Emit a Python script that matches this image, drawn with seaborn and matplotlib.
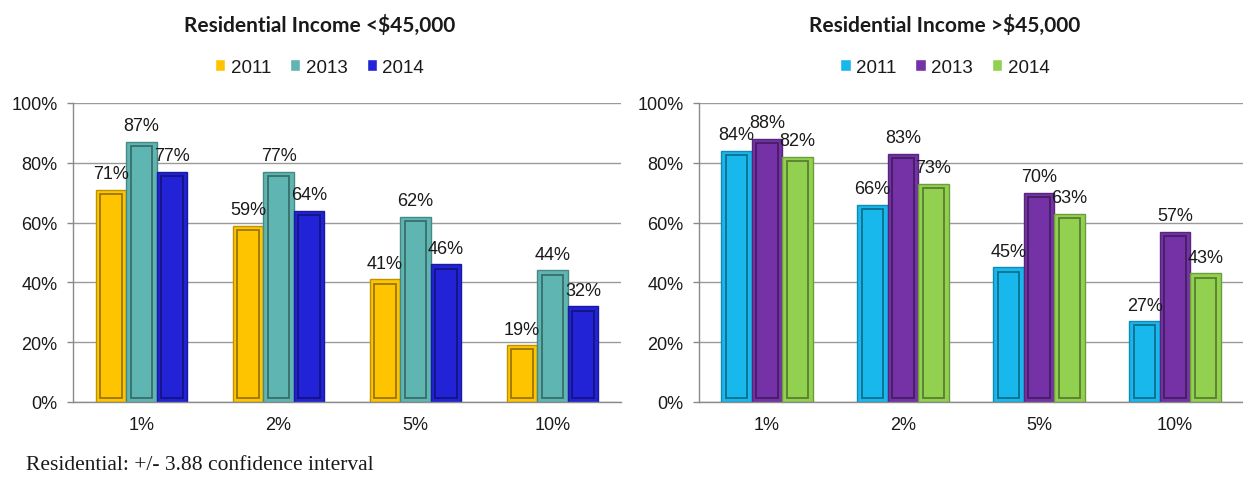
import matplotlib
matplotlib.use("Agg")
import matplotlib.pyplot as plt
import matplotlib.colors as mcolors
from matplotlib.patches import Rectangle
import seaborn as sns
import pandas as pd
import numpy as np

categories = ["1%", "2%", "5%", "10%"]
years = ["2011", "2013", "2014"]
low_2011 = [71, 59, 41, 19]
low_2013 = [87, 77, 62, 44]
low_2014 = [77, 64, 46, 32]
high_2011 = [84, 66, 45, 27]
high_2013 = [88, 83, 70, 57]
high_2014 = [82, 73, 63, 43]
title_low = "Residential Income <$45,000"
title_high = "Residential Income >$45,000"
yticks = [0, 20, 40, 60, 80, 100]
footnote = "Residential: +/- 3.88 confidence interval"

colors_low = ["#FFC400", "#5FB5B2", "#2222D6"]
colors_high = ["#18B8EC", "#7432A6", "#92D050"]

sns.set_theme(style="white")
plt.rcParams["font.family"] = ["Liberation Sans", "DejaVu Sans"]

def make_df(a, b, c):
    rows = []
    for y, vals in zip(years, [a, b, c]):
        for cat, v in zip(categories, vals):
            rows.append({"cat": cat, "year": y, "val": v})
    return pd.DataFrame(rows)

fig = plt.figure(figsize=(12.43, 4.81), dpi=100)
W, H = 1243, 481
ax1 = fig.add_axes([73 / W, 1 - 403 / H, 548 / W, 299 / H])
ax2 = fig.add_axes([699 / W, 1 - 403 / H, 544 / W, 299 / H])

def darker(c, f=0.6):
    r, g, b = mcolors.to_rgb(c)
    return (r * f, g * f, b * f)

def draw(ax, df, pal, title, cx):
    sns.barplot(data=df, x="cat", y="val", hue="year", palette=pal,
                order=categories, hue_order=years, width=0.67, ax=ax,
                saturation=1, legend=True)
    ax.set_ylim(0, 100)
    ax.set_xlim(-0.5, 3.5)
    ax.set_yticks(yticks)
    ax.set_yticklabels([f"{t}%" for t in yticks], fontsize=13, color="#1a1a1a")
    ax.set_xticks(range(len(categories)))
    ax.set_xticklabels(categories, fontsize=13, color="#1a1a1a")
    ax.set_xticks(np.arange(-0.5, 4.0, 1.0), minor=True)
    ax.tick_params(axis="x", which="major", length=0, pad=10)
    ax.tick_params(axis="x", which="minor", length=4, width=1, color="#8a8a8a", direction="out")
    ax.tick_params(axis="y", length=4, width=1, color="#8a8a8a", direction="out", pad=7, left=True)
    ax.set_xlabel("")
    ax.set_ylabel("")
    ax.grid(axis="y", color="#9a9a9a", linewidth=1)
    ax.set_axisbelow(True)
    for s in ["top", "right"]:
        ax.spines[s].set_visible(False)
    for s in ["left", "bottom"]:
        ax.spines[s].set_color("#8a8a8a")
        ax.spines[s].set_linewidth(1)
    for i, cont in enumerate(ax.containers):
        col = pal[i]
        for p in cont:
            p.set_edgecolor(darker(col, 0.75))
            p.set_linewidth(1.0)
            x, y0 = p.get_x(), p.get_y()
            w, h = p.get_width(), p.get_height()
            dx = w * 0.15
            dy = 1.4
            if h > 2 * dy:
                ax.add_patch(Rectangle((x + dx, y0 + dy), w - 2 * dx, h - 2 * dy,
                                       fill=False, edgecolor=darker(col, 0.6),
                                       linewidth=1.3, zorder=p.get_zorder() + 0.1))
        ax.bar_label(cont, labels=[f"{int(v)}%" for v in cont.datavalues],
                     padding=5.5, fontsize=13, color="#1a1a1a")
    leg = ax.legend(loc="center", bbox_to_anchor=(cx, 1.12), ncol=3, frameon=False,
                    fontsize=13.5, handlelength=0.55, handleheight=0.55,
                    handletextpad=0.3, columnspacing=1.0)
    for t in leg.get_texts():
        t.set_color("#1a1a1a")
    ax.text(cx, 1.262, title, transform=ax.transAxes, ha="center", va="center",
            fontsize=15, fontweight="bold", family=["Lato", "DejaVu Sans"], color="#1a1a1a")

draw(ax1, make_df(low_2011, low_2013, low_2014), colors_low, title_low, 0.45)
draw(ax2, make_df(high_2011, high_2013, high_2014), colors_high, title_high, 0.452)

fig.text(26 / W, 1 - 466 / H, footnote, ha="left", va="center", fontsize=15.5,
         family=["Liberation Serif", "DejaVu Serif"], color="#1a1a1a")

fig.savefig("out.png", dpi=100)
